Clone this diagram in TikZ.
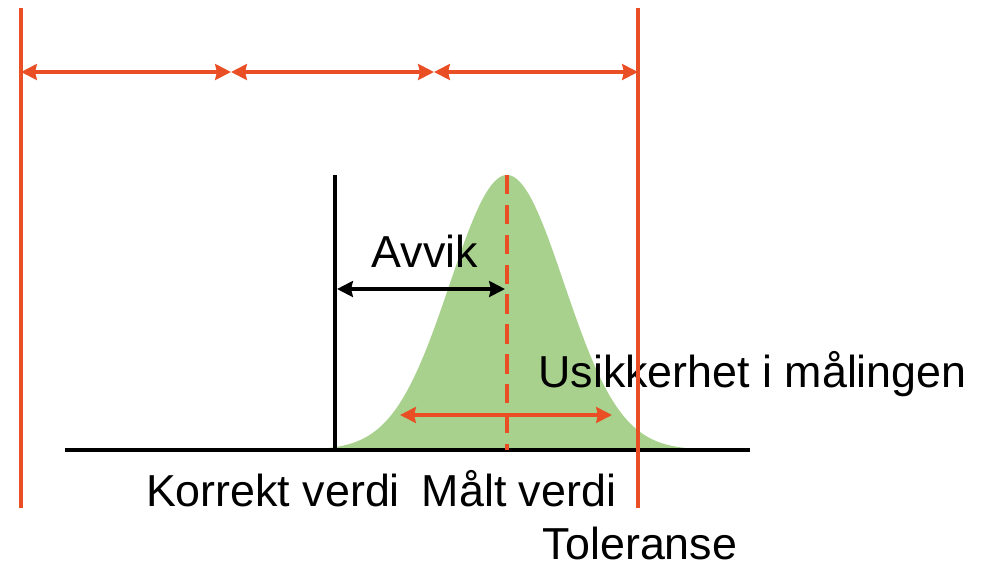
\documentclass[tikz,border=0pt]{standalone}
\usepackage{fontspec}
\setmainfont{Liberation Sans}
\usetikzlibrary{arrows.meta}
\definecolor{tolred}{HTML}{E94E24}
\definecolor{bellgreen}{HTML}{A9D18E}
\tikzset{
  redline/.style={draw=tolred, line width=2.2pt},
  redarrow/.style={redline, {Stealth[length=9pt,width=9pt,inset=1pt]}-{Stealth[length=9pt,width=9pt,inset=1pt]}},
  blackarrow/.style={line width=2pt, {Stealth[length=9pt,width=9pt,inset=1pt]}-{Stealth[length=9pt,width=9pt,inset=1pt]}},
  lab/.style={font=\fontsize{25.5}{30}\selectfont, inner sep=0pt, anchor=base},
}
\begin{document}
\begin{tikzpicture}[x=0.02cm,y=-0.02cm]
\useasboundingbox (0,0) rectangle (982,566);
% spredning i maalingen
\fill[bellgreen] plot[domain=-3.8:3.8, samples=150] ({507+57*\x},{450-275*exp(-\x*\x/2)}) -- cycle;
% akse
\coordinate (base0) at (65,450);
\coordinate (base1) at (750,450);
\draw[line width=2.2pt] (base0) -- (base1);
\coordinate (kv) at (335,175);
\coordinate (kvb) at (335,450);
\draw[line width=2pt] (kv) -- (kvb);
\coordinate (mv) at (507,175);
\coordinate (mvb) at (507,450);
\draw[redline, dash pattern=on 11pt off 6pt] (mv) -- (mvb);
% avvik og usikkerhet
\coordinate (av0) at (337,289);
\coordinate (av1) at (505,289);
\draw[blackarrow] (av0) -- (av1);
\coordinate (us0) at (400,415);
\coordinate (us1) at (612,415);
\draw[redarrow] (us0) -- (us1);
\node[lab] (avvik) at (425,267) {Avvik};
\node[lab, anchor=base west] (usikk) at (538,387) {Usikkerhet i målingen};
\node[lab] (korrekt) at (273,506) {Korrekt verdi};
\node[lab] (maalt) at (519,506) {Målt verdi};
\node[lab] (toleranse) at (640,559) {Toleranse};
% toleransegrenser
\coordinate (tolA) at (21,8);
\coordinate (tolAb) at (21,508);
\coordinate (tolB) at (638,8);
\coordinate (tolBb) at (638,508);
\draw[redline] (tolA) -- (tolAb);
\draw[redline] (tolB) -- (tolBb);
\foreach \i/\x in {0/21,1/231,2/434,3/638}{
  \coordinate (t\i) at (\x,72);
}
\foreach \i/\j in {0/1,1/2,2/3}{
  \draw[redarrow] (t\i) -- (t\j);
}
\end{tikzpicture}
\end{document}
